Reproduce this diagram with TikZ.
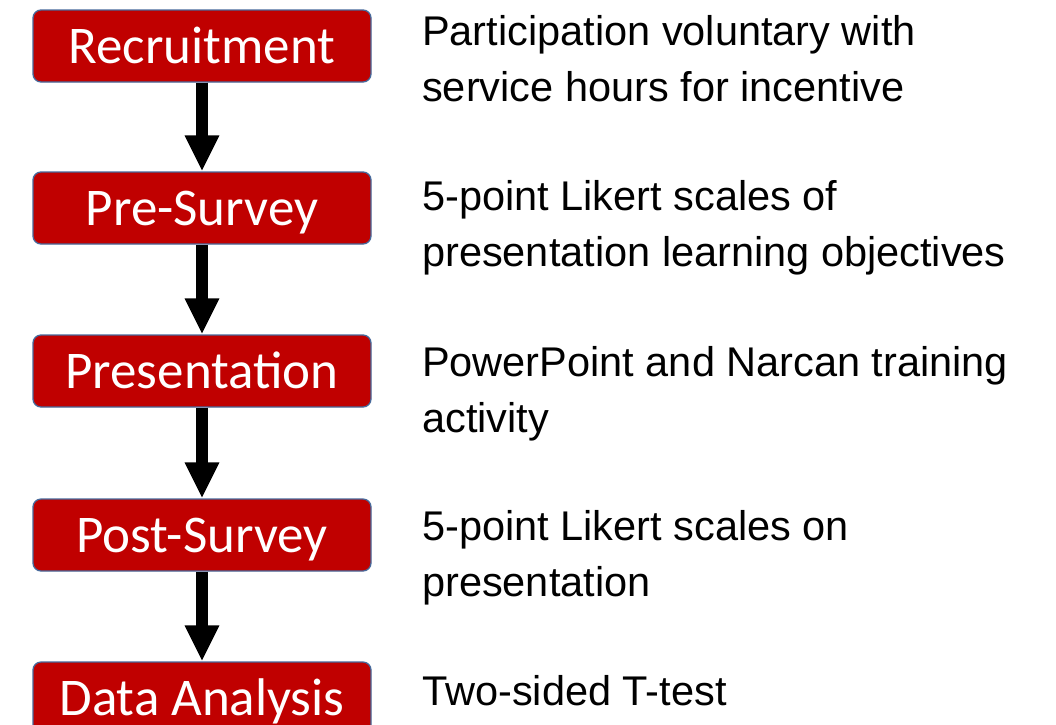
\documentclass[tikz,border=0pt]{standalone}
\usepackage{fontspec}
\setmainfont{Liberation Sans}
\newfontfamily\boxfont{Carlito}
\usetikzlibrary{arrows.meta}
\definecolor{boxred}{RGB}{192,0,0}
\definecolor{boxedge}{RGB}{70,105,155}

\tikzset{
	stage/.style={draw=boxedge, line width=1.3pt, fill=boxred, rounded corners=8pt,
		minimum width=338pt, minimum height=72pt, inner sep=0pt,
		text=white, font=\boxfont\fontsize{53}{60}\selectfont,
		text height=34pt, text depth=0pt},
	desc/.style={anchor=base west, inner sep=0pt, align=left,
		font=\fontsize{41.5}{56}\selectfont},
	flow/.style={line width=12pt, -{Triangle[width=32pt,length=36pt]}}
}

\begin{document}
\begin{tikzpicture}[x=1pt, y=-1pt]
		%%%%% START %%%%%
		\useasboundingbox (0, 0) rectangle (1056, 724);
		
		\node[stage] (recruit) at (202, 46) {Recruitment};
		\node[stage] (presurvey) at (202, 208) {Pre-Survey};
		\node[stage] (presentation) at (202, 371) {Presentation};
		\node[stage] (postsurvey) at (202, 535) {Post-Survey};
		\node[stage] (analysis) at (202, 698) {Data Analysis};
		
		\draw[flow] (recruit.south) -- (presurvey.north);
		\draw[flow] (presurvey.south) -- (presentation.north);
		\draw[flow] (presentation.south) -- (postsurvey.north);
		\draw[flow] (postsurvey.south) -- (analysis.north);
		
		% base anchor = last line
		\node[desc] (recruitdesc) at (422, 101) {Participation voluntary with\\service hours for incentive};
		\node[desc] (presurveydesc) at (422, 266) {5-point Likert scales of\\presentation learning objectives};
		\node[desc] (presentationdesc) at (422, 432) {PowerPoint and Narcan training\\activity};
		\node[desc] (postsurveydesc) at (422, 596) {5-point Likert scales on\\presentation};
		\node[desc] (analysisdesc) at (422, 705) {Two-sided T-test};
		%%%%% END %%%%%
	\end{tikzpicture}
\end{document}
